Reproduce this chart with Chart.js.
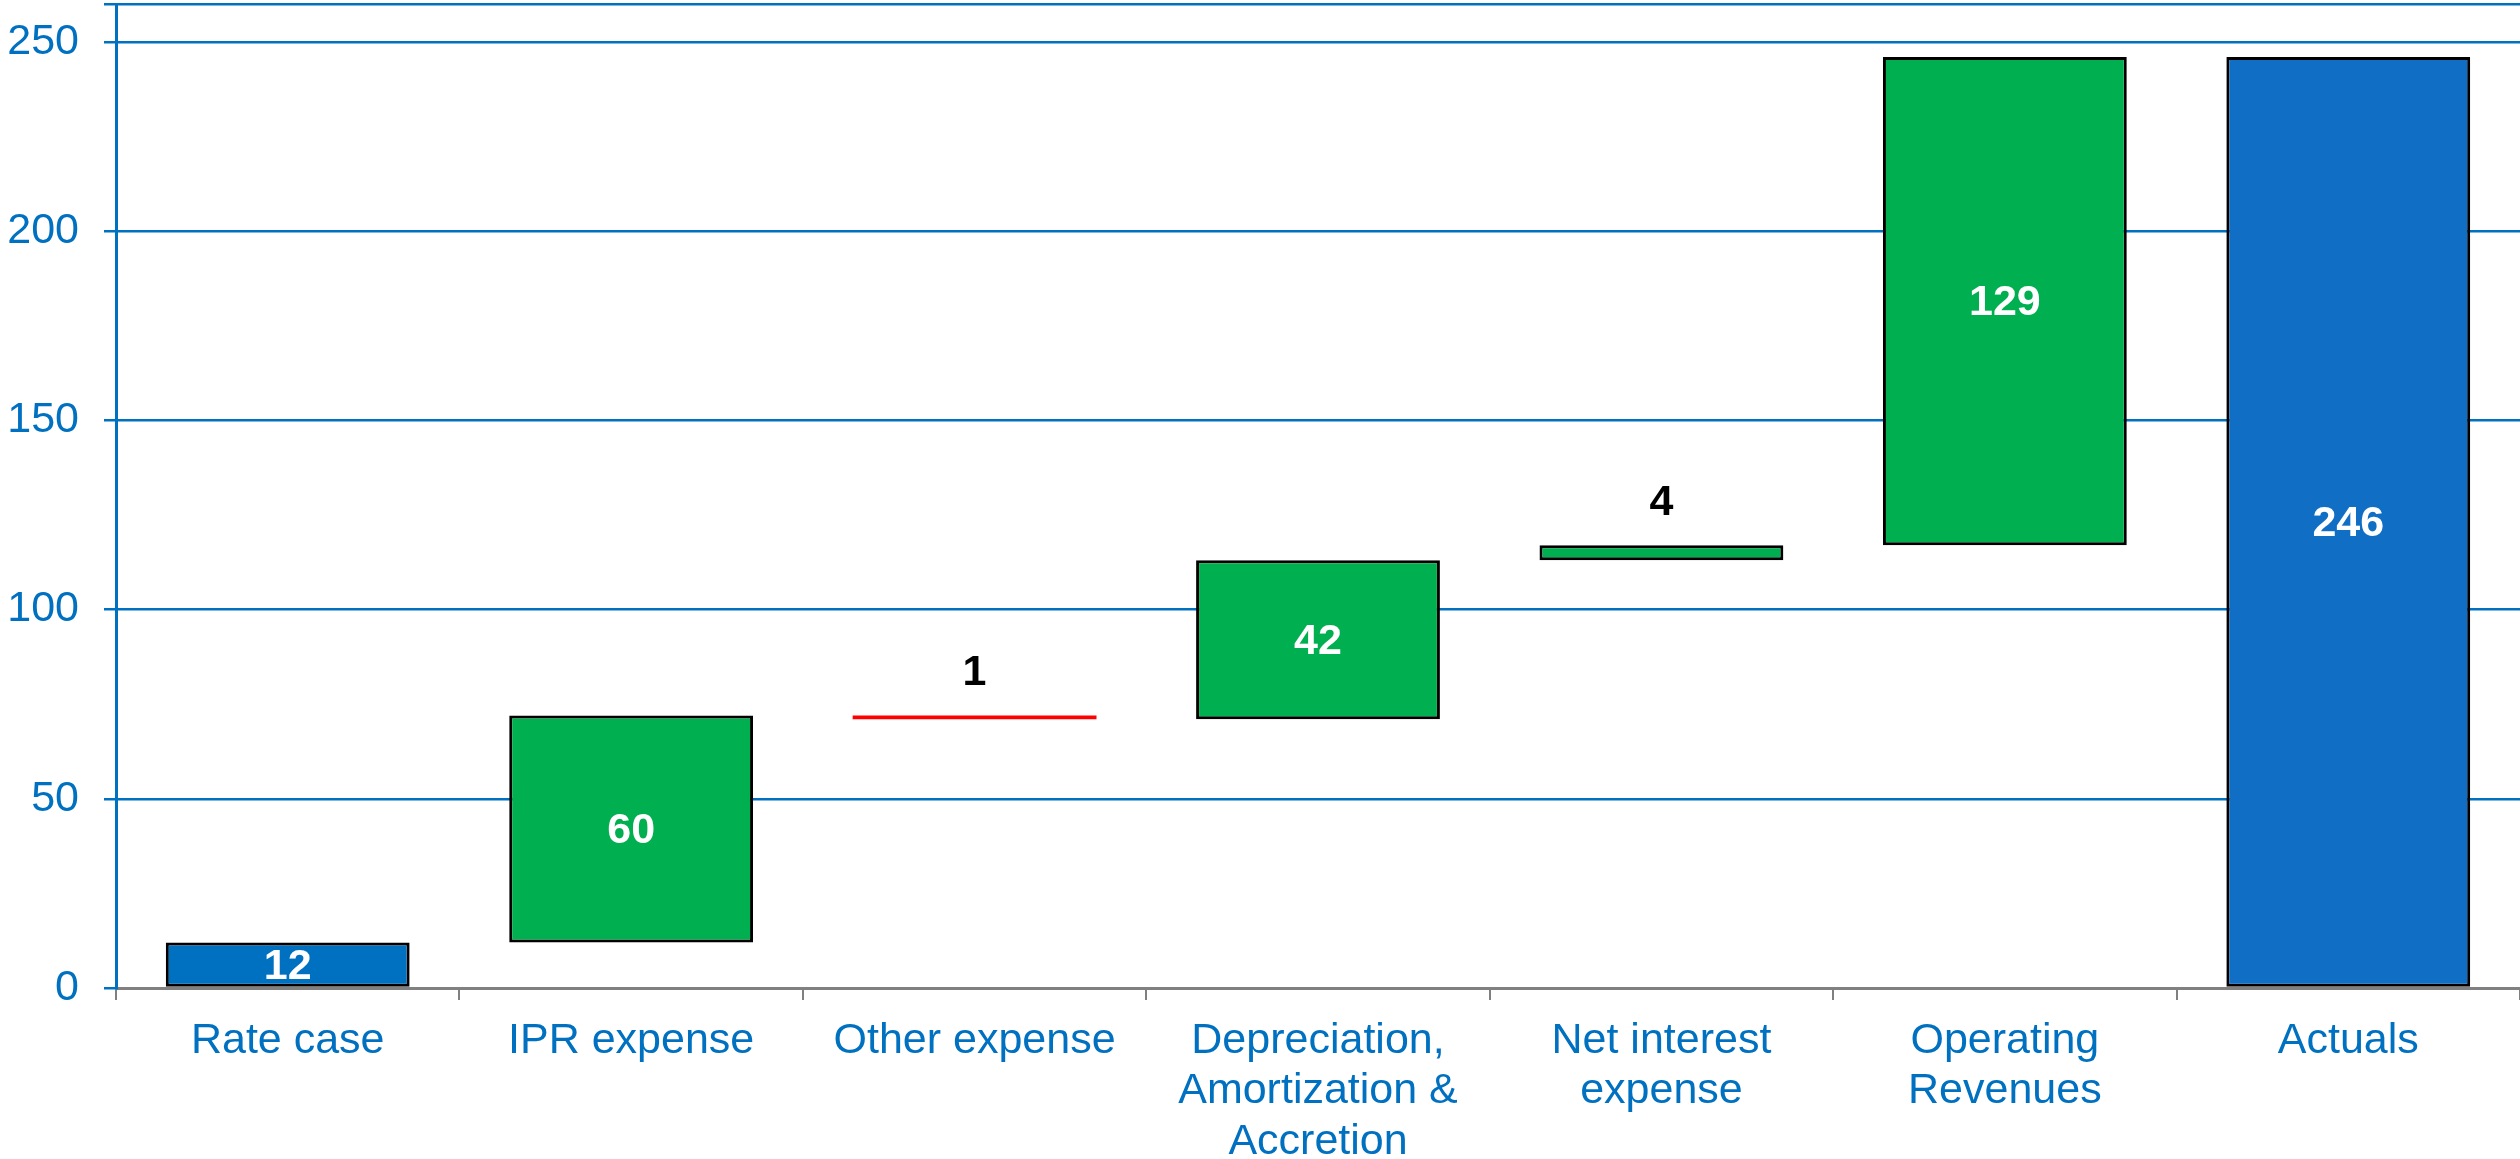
<!DOCTYPE html>
<html>
<head>
<meta charset="utf-8">
<script src="https://cdn.jsdelivr.net/npm/chart.js@4"></script>
<style>
    body { margin: 0; background: #fff; }
    #wrap { width: 2520px; height: 1159px; }
</style>
</head>
<body>
<div id="wrap"><canvas id="chart1"></canvas></div>
<script>
// waterfall: bridge from rate case to actuals
const categories = ['Rate case', 'IPR expense', 'Other expense', ['Depreciation,', 'Amortization &', 'Accretion'], ['Net interest', 'expense'], ['Operating', 'Revenues'], 'Actuals'];
const changes = [12, 60, -1, 42, 4, 129];
const total = 246;
const yTicks = [0, 50, 100, 150, 200, 250];
const yMax = 260;

const blue = '#0070C0';
const font = "'Liberation Sans', Arial, sans-serif";

// running sum -> floating bars
const bars = [];
const colors = [];
let run = 0;
for (let i = 0; i < changes.length; i++) {
    const start = run;
    run += changes[i];
    if (i === 0) {
        bars.push([0, run]);
        colors.push(blue);
    } else {
        bars.push([start, run]);
        colors.push(changes[i] < 0 ? '#FF0000' : '#00B050');
    }
}
bars.push([0, total]);
colors.push('#106EC4');
const labels = changes.map(v => String(Math.abs(v))).concat([String(total)]);

const valueLabels = {
    id: 'valueLabels',
    afterDatasetsDraw(chart) {
        const ctx = chart.ctx;
        const meta = chart.getDatasetMeta(0);
        ctx.save();
        ctx.font = 'bold 43px ' + font;
        ctx.textAlign = 'center';
        ctx.textBaseline = 'middle';
        meta.data.forEach((bar, i) => {
            const top = Math.min(bar.y, bar.base);
            const bottom = Math.max(bar.y, bar.base);
            if (bottom - top > 30) {
                ctx.fillStyle = '#fff';
                ctx.fillText(labels[i], bar.x, (top + bottom) / 2 + 2);
            } else {
                ctx.fillStyle = '#000';
                ctx.fillText(labels[i], bar.x, top - 42);
            }
        });
        ctx.restore();
    }
};

const ctx = document.getElementById('chart1').getContext('2d');
const chart1 = new Chart(ctx, {
    type: 'bar',
    data: {
        labels: categories,
        datasets: [{
            data: bars,
            backgroundColor: colors,
            borderColor: colors.map(c => c === '#FF0000' ? '#FF0000' : '#000'),
            borderWidth: colors.map(c => c === '#FF0000' ? 0 : 3),
            borderSkipped: false,
            categoryPercentage: 1,
            barPercentage: 0.71
        }]
    },
    options: {
        responsive: true,
        maintainAspectRatio: false,
        animation: false,
        layout: { padding: { top: 4, left: 0, right: 0, bottom: 0 } },
        plugins: {
            legend: { display: false },
            tooltip: { enabled: false }
        },
        scales: {
            x: {
                grid: {
                    display: true,
                    drawOnChartArea: false,
                    drawTicks: true,
                    tickLength: 12,
                    color: '#808080',
                    lineWidth: 2,
                    offset: true
                },
                border: { color: '#808080', width: 3 },
                ticks: {
                    color: blue,
                    font: { family: font, size: 43, lineHeight: 1.17 },
                    padding: 16,
                    maxRotation: 0,
                    autoSkip: false
                },
                afterFit(scale) {
                    scale.height = 171;
                    scale.paddingLeft = 0;
                    scale.paddingRight = 0;
                }
            },
            y: {
                min: 0,
                max: yMax,
                grid: { color: blue, lineWidth: 2.5, tickLength: 12 },
                border: { color: blue, width: 3 },
                ticks: {
                    color: blue,
                    font: { family: font, size: 43 },
                    padding: 25,
                    callback: v => yTicks.includes(v) ? v : ''
                },
                afterBuildTicks(scale) {
                    scale.ticks = yTicks.concat([yMax]).map(v => ({ value: v }));
                },
                afterFit(scale) {
                    scale.width = 116;
                    scale.paddingTop = 0;
                    scale.paddingBottom = 0;
                }
            }
        }
    },
    plugins: [valueLabels]
});
</script>
</body>
</html>
